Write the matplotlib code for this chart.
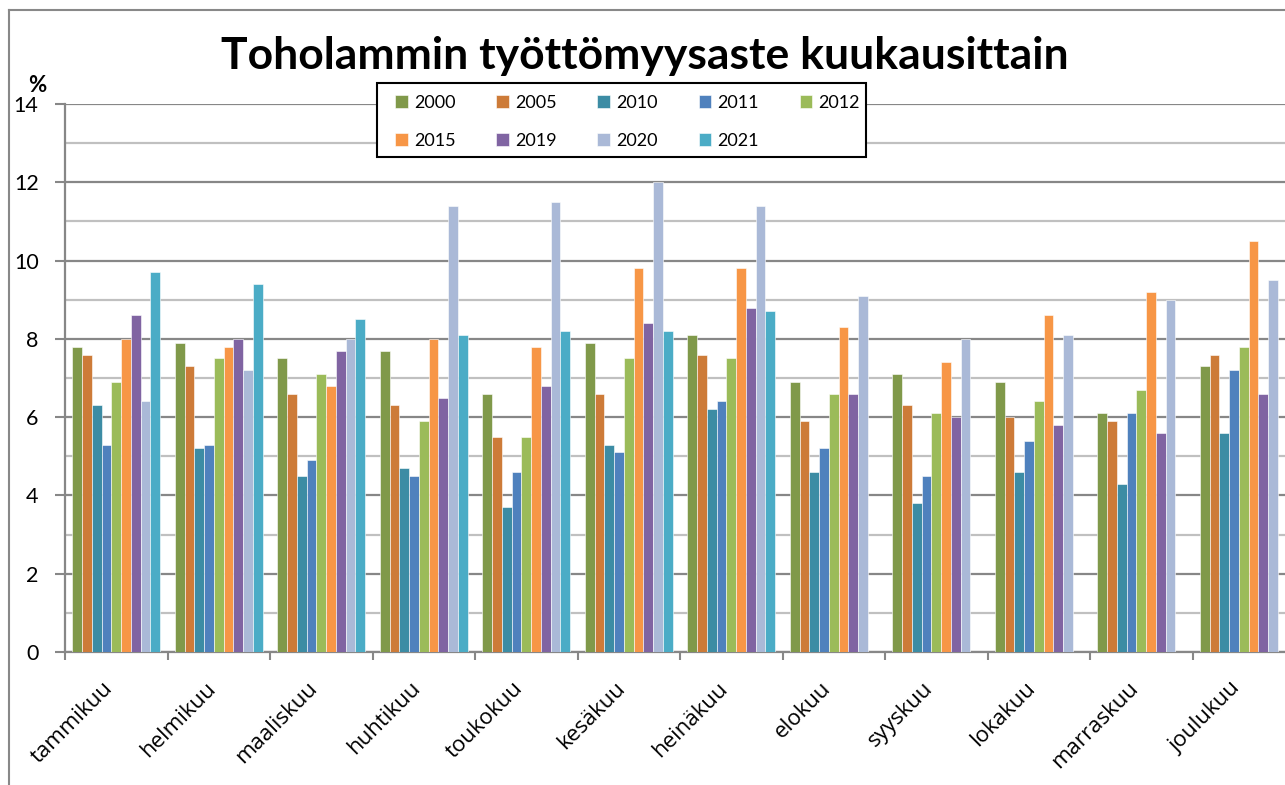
import numpy as np
import matplotlib
matplotlib.use("Agg")
import matplotlib.pyplot as plt
from matplotlib.lines import Line2D
from matplotlib.patches import Rectangle
from matplotlib.transforms import offset_copy

plt.rcParams["font.family"] = ["Lato", "DejaVu Sans"]

months = ["tammikuu", "helmikuu", "maaliskuu", "huhtikuu", "toukokuu", "kesäkuu",
          "heinäkuu", "elokuu", "syyskuu", "lokakuu", "marraskuu", "joulukuu"]

years = ["2000", "2005", "2010", "2011", "2012", "2015", "2019", "2020", "2021"]

v2000 = [7.8, 7.9, 7.5, 7.7, 6.6, 7.9, 8.1, 6.9, 7.1, 6.9, 6.1, 7.3]
v2005 = [7.6, 7.3, 6.6, 6.3, 5.5, 6.6, 7.6, 5.9, 6.3, 6.0, 5.9, 7.6]
v2010 = [6.3, 5.2, 4.5, 4.7, 3.7, 5.3, 6.2, 4.6, 3.8, 4.6, 4.3, 5.6]
v2011 = [5.3, 5.3, 4.9, 4.5, 4.6, 5.1, 6.4, 5.2, 4.5, 5.4, 6.1, 7.2]
v2012 = [6.9, 7.5, 7.1, 5.9, 5.5, 7.5, 7.5, 6.6, 6.1, 6.4, 6.7, 7.8]
v2015 = [8.0, 7.8, 6.8, 8.0, 7.8, 9.8, 9.8, 8.3, 7.4, 8.6, 9.2, 10.5]
v2019 = [8.6, 8.0, 7.7, 6.5, 6.8, 8.4, 8.8, 6.6, 6.0, 5.8, 5.6, 6.6]
v2020 = [6.4, 7.2, 8.0, 11.4, 11.5, 12.0, 11.4, 9.1, 8.0, 8.1, 9.0, 9.5]
v2021 = [9.7, 9.4, 8.5, 8.1, 8.2, 8.2, 8.7, np.nan, np.nan, np.nan, np.nan, np.nan]

series = [v2000, v2005, v2010, v2011, v2012, v2015, v2019, v2020, v2021]
colors = ["#80994A", "#CD7B38", "#3C8CA4", "#4F81BD", "#9BBB59",
          "#F79646", "#8064A2", "#AAB9D7", "#4BACC6"]

W, H = 1285, 785
fig = plt.figure(figsize=(W / 100, H / 100), dpi=100)
ax = fig.add_axes([65 / W, (H - 652) / H, 1230 / W, (652 - 104) / H])

x = np.arange(len(months)) + 0.5
bw = 1 / 10.5
bars = []
for j, (vals, col, yr) in enumerate(zip(series, colors, years)):
    b = ax.bar(x + (j - 4) * bw, vals, width=bw, color=col, label=yr,
               edgecolor="white", linewidth=0.4, zorder=3)
    bars.append(b)

ax.set_xlim(0, 12)
ax.set_ylim(0, 14)

# gridlines: darker at even values, lighter at odd
ax.set_yticks(np.arange(0, 15, 2))
ax.set_yticks(np.arange(1, 15, 2), minor=True)
ax.grid(axis="y", which="major", color="#878787", linewidth=1.6, zorder=0)
ax.grid(axis="y", which="minor", color="#c0c0c0", linewidth=1.6, zorder=0)
ax.set_axisbelow(True)

# month labels: rotated text placed a bit left of each group centre
ax.set_xticks(np.arange(0, 13))
ax.set_xticklabels([])
lab_tr = offset_copy(ax.get_xaxis_transform(), fig=fig, x=-14, y=-26, units="dots")
for xi, m in zip(x, months):
    ax.text(xi, 0, m, transform=lab_tr, rotation=45, rotation_mode="anchor",
            ha="right", va="top", fontsize=16, family=["Open Sans", "DejaVu Sans"])

ax.tick_params(axis="x", length=6, width=1.5, color="#878787")
ax.tick_params(axis="y", which="major", length=7, width=1.5, color="#878787",
               labelsize=15.5, pad=12)
ax.tick_params(axis="y", which="minor", length=0)

for s in ["top", "right"]:
    ax.spines[s].set_visible(False)
for s in ["left", "bottom"]:
    ax.spines[s].set_color("#878787")
    ax.spines[s].set_linewidth(1.6)

fig.text(645 / W, 1 - 56 / H, "Toholammin työttömyysaste kuukausittain",
         ha="center", va="center", fontsize=32, fontweight="bold")
fig.text(37 / W, 1 - 85 / H, "%", ha="center", va="center", fontsize=16,
         fontweight="bold")

# legend filled row by row: 2000..2012 on top, 2015..2021 below
order = [0, 5, 1, 6, 2, 7, 3, 8, 4]
fig.add_artist(Rectangle((377 / W, 1 - 157 / H), (866 - 377) / W, (157 - 83) / H,
                         transform=fig.transFigure, facecolor="white",
                         edgecolor="black", linewidth=1.5, zorder=4))
leg = fig.legend([bars[i] for i in order], [years[i] for i in order],
                 loc="upper left", bbox_to_anchor=(395 / W, 1 - 95 / H), ncol=5,
                 fontsize=13, frameon=False, borderaxespad=0, borderpad=0,
                 handlelength=0.7, handleheight=0.7, handletextpad=0.35,
                 columnspacing=2.25, labelspacing=1.2)
leg.set_zorder(6)

# outer chart frame (left and top visible)
fig.add_artist(Line2D([8.5 / W, 8.5 / W], [0, 1 - 9.5 / H], transform=fig.transFigure,
                      color="#888888", linewidth=1.5))
fig.add_artist(Line2D([8.5 / W, 1], [1 - 9.5 / H, 1 - 9.5 / H], transform=fig.transFigure,
                      color="#888888", linewidth=1.5))

fig.savefig("out.png", dpi=100)
